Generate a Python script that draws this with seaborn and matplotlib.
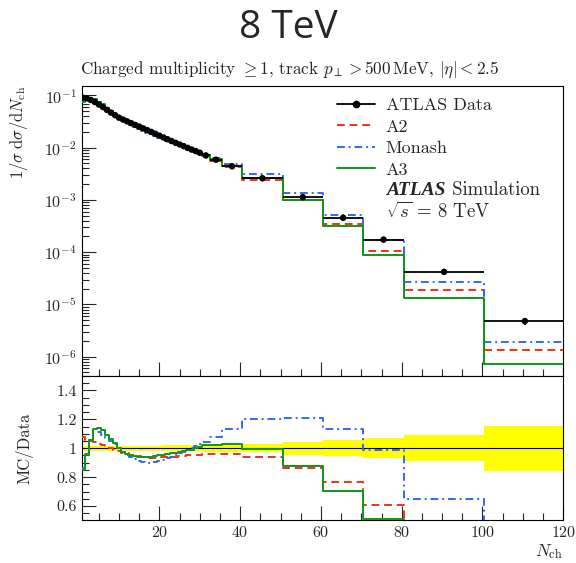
import numpy as np
import pandas as pd
import matplotlib
matplotlib.use("Agg")
import matplotlib.pyplot as plt
import seaborn as sns
from matplotlib.lines import Line2D
from matplotlib.ticker import MultipleLocator, LogLocator, NullFormatter, FuncFormatter

# Bin edges in charged multiplicity
edges = [0.5, 1.5, 2.5, 3.5, 4.5, 5.5, 6.5, 7.5, 8.5, 9.5, 10.5,
         11.5, 12.5, 13.5, 14.5, 15.5, 16.5, 17.5, 18.5, 19.5, 20.5,
         21.5, 22.5, 23.5, 24.5, 25.5, 26.5, 27.5, 28.5, 29.5, 30.5,
         32.5, 35.5, 40.5, 50.5, 60.5, 70.5, 80.5, 100.5, 120.5]

# 1/sigma dsigma/dNch, measured
data = [0.090, 0.088, 0.082, 0.075, 0.067, 0.060, 0.053, 0.047, 0.042, 0.0375,
        0.0345, 0.0319, 0.0295, 0.0273, 0.0253, 0.0234, 0.0216, 0.0200, 0.0184, 0.0170,
        0.0157, 0.0145, 0.0134, 0.0124, 0.0115, 0.0107, 0.0099, 0.0092, 0.0086, 0.0080,
        0.0071, 0.0059, 0.0044, 0.0026, 0.00113, 0.000455, 0.000174, 4.2e-5, 4.8e-6]

# relative uncertainty of the measurement
data_relerr = [0.018, 0.018, 0.018, 0.018, 0.018, 0.018, 0.018, 0.018, 0.018, 0.018,
               0.018, 0.018, 0.018, 0.018, 0.018, 0.018, 0.018, 0.018, 0.018, 0.018,
               0.02, 0.02, 0.02, 0.02, 0.02, 0.02, 0.02, 0.02, 0.02, 0.02,
               0.025, 0.025, 0.025, 0.029, 0.045, 0.055, 0.07, 0.09, 0.155]

# Pythia 8 tunes
a2 = [0.0968, 0.0933, 0.0861, 0.0780, 0.0690, 0.0615, 0.0538, 0.0470, 0.0416, 0.03675,
      0.03347, 0.03078, 0.02817, 0.02594, 0.02391, 0.02200, 0.02030, 0.01870, 0.01720, 0.01590,
      0.01476, 0.01363, 0.01260, 0.01166, 0.01087, 0.01011, 0.009405, 0.00874, 0.008213, 0.00764,
      0.006816, 0.005664, 0.004224, 0.002444, 0.0009775, 0.0003472, 0.0001061, 1.89e-5, 1.34e-6]

monash = [0.0774, 0.08448, 0.08692, 0.08325, 0.07437, 0.0654, 0.05671, 0.04935, 0.04326, 0.0375,
          0.03364, 0.03046, 0.02773, 0.02525, 0.02315, 0.02118, 0.01944, 0.0180, 0.01665, 0.01547,
          0.01444, 0.01349, 0.0126, 0.01184, 0.0111, 0.01043, 0.0098, 0.0092, 0.008729, 0.00824,
          0.00742, 0.006343, 0.004972, 0.00312, 0.001367, 0.0005164, 0.0001714, 2.73e-5, 1.92e-6]

a3 = [0.0765, 0.08404, 0.08692, 0.08513, 0.07638, 0.0675, 0.05777, 0.05006, 0.04347, 0.0375,
      0.03364, 0.03062, 0.02803, 0.0258, 0.02378, 0.022, 0.0203, 0.0188, 0.01739, 0.01615,
      0.01499, 0.01392, 0.01293, 0.01203, 0.01121, 0.01049, 0.009752, 0.009108, 0.0086, 0.00808,
      0.007242, 0.006018, 0.004532, 0.002587, 0.0009899, 0.0003212, 8.874e-5, 1.344e-5, 7.2e-7]

models = [("A2", a2, "#EE3311", (0, (4, 2.5))),
          ("Monash", monash, "#3366FF", (0, (4, 2, 1, 2))),
          ("A3", a3, "#109618", "-")]

sns.set_theme(style="ticks")
plt.rcParams.update({
    "font.family": ["cmr10"],
    "mathtext.fontset": "cm",
    "axes.formatter.use_mathtext": True,
    "axes.linewidth": 0.8,
    "axes.edgecolor": "black",
})

edges_a = np.array(edges)
centers = 0.5 * (edges_a[:-1] + edges_a[1:])
halfw = 0.5 * np.diff(edges_a)
data_a = np.array(data)
err_a = np.array(data_relerr)


def steps(values):
    """Values extended by the last bin so a steps-post line closes the last bin."""
    v = np.asarray(values, dtype=float)
    return pd.DataFrame({"x": edges_a, "y": np.append(v, v[-1])})


fig = plt.figure(figsize=(5.76, 5.63), dpi=100)
ax = fig.add_axes([0.1418, 0.3321, 0.836, 0.5151])
rax = fig.add_axes([0.1418, 0.0755, 0.836, 0.2566], sharex=ax)

# ---- main panel ----
ax.errorbar(centers, data_a, xerr=halfw, yerr=data_a * err_a, fmt="none",
            ecolor="black", elinewidth=1.3, capsize=0, zorder=4)
sns.scatterplot(x=centers, y=data_a, color="black", s=22, edgecolor="none",
                ax=ax, zorder=5, legend=False)
for name, vals, col, ls in models:
    df = steps(vals)
    sns.lineplot(data=df, x="x", y="y", drawstyle="steps-post", color=col,
                 linestyle=ls, lw=1.4, ax=ax, estimator=None, sort=False,
                 legend=False, zorder=3)

ax.set_yscale("log")
ax.set_ylim(10 ** -6.37, 10 ** -0.82)
ax.set_xlim(0.75, 120)
ax.yaxis.set_major_locator(LogLocator(base=10, numticks=12))
ax.yaxis.set_minor_locator(LogLocator(base=10, subs=np.arange(2, 10), numticks=12))
ax.yaxis.set_minor_formatter(NullFormatter())
ax.tick_params(axis="x", labelbottom=False)
ax.set_xlabel("")
ax.set_ylabel(r"$1/\sigma\;\mathrm{d}\sigma/\mathrm{d}N_\mathrm{ch}$", fontsize=12, loc="top")
ax.yaxis.set_label_coords(-0.107, 1.0)

ax.text(-0.003, 1.022, r"Charged multiplicity $\geq 1$, track $p_\perp > 500\,$MeV, $|\eta| < 2.5$",
        transform=ax.transAxes, fontsize=12.3, ha="left", va="bottom")

# legend
handles = [Line2D([], [], color="black", marker="o", ms=4.5, lw=1.3)]
labels = ["ATLAS Data"]
for name, vals, col, ls in models:
    handles.append(Line2D([], [], color=col, linestyle=ls, lw=1.4))
    labels.append(name)
ax.legend(handles, labels, loc="upper left", bbox_to_anchor=(0.53, 0.960),
          frameon=False, fontsize=13, handlelength=2.1, handletextpad=0.61,
          labelspacing=0.32, borderaxespad=0, borderpad=0)

t_atlas = ax.text(0.632, 0.641, "ATLAS", transform=ax.transAxes, fontsize=14,
                  family="Liberation Serif", weight="bold", style="italic",
                  ha="left", va="center")
ax.annotate(" Simulation", xy=(1, 0.5), xycoords=t_atlas, fontsize=13.5,
            ha="left", va="center")
ax.text(0.632, 0.566, r"$\sqrt{s}$ = 8 TeV", transform=ax.transAxes, fontsize=13.5,
        ha="left", va="center")

# ---- ratio panel ----
band_lo = np.append(1 - err_a, 1 - err_a[-1])
band_hi = np.append(1 + err_a, 1 + err_a[-1])
rax.fill_between(edges_a, band_lo, band_hi, step="post", color="#FFFF00", lw=0, zorder=1)
ref = steps(data_a / data_a)
sns.lineplot(data=ref, x="x", y="y", drawstyle="steps-post", color="black", lw=0.8,
             ax=rax, estimator=None, sort=False, legend=False, zorder=2)
for name, vals, col, ls in models:
    df = steps(np.array(vals) / data_a)
    sns.lineplot(data=df, x="x", y="y", drawstyle="steps-post", color=col,
                 linestyle=ls, lw=1.4, ax=rax, estimator=None, sort=False,
                 legend=False, zorder=3)

rax.set_ylim(0.5, 1.5)
rax.set_xlim(0.75, 120)
rax.yaxis.set_major_locator(MultipleLocator(0.2))
rax.yaxis.set_minor_locator(MultipleLocator(0.05))
rax.yaxis.set_major_formatter(FuncFormatter(lambda v, p: "%g" % round(v, 3) if 0.5 < v < 1.5 else ""))
rax.xaxis.set_major_locator(MultipleLocator(20))
rax.xaxis.set_minor_locator(MultipleLocator(5))
rax.set_ylabel("MC/Data", fontsize=12)
rax.yaxis.set_label_coords(-0.101, 0.5)
rax.set_xlabel(r"$N_\mathrm{ch}$", fontsize=12.5, loc="right", va="top")
rax.xaxis.set_label_coords(1.0, -0.15)

for a in (ax, rax):
    a.tick_params(which="major", direction="in", length=10, width=0.8,
                  labelsize=11.5, top=False, right=False)
    a.tick_params(which="minor", direction="in", length=5, width=0.8,
                  top=False, right=False)
    for s in a.spines.values():
        s.set_linewidth(0.8)

fig.text(0.5, 0.95, "8 TeV", family="Open Sans", fontsize=28, ha="center", va="center")

fig.savefig("out.png", dpi=100)
